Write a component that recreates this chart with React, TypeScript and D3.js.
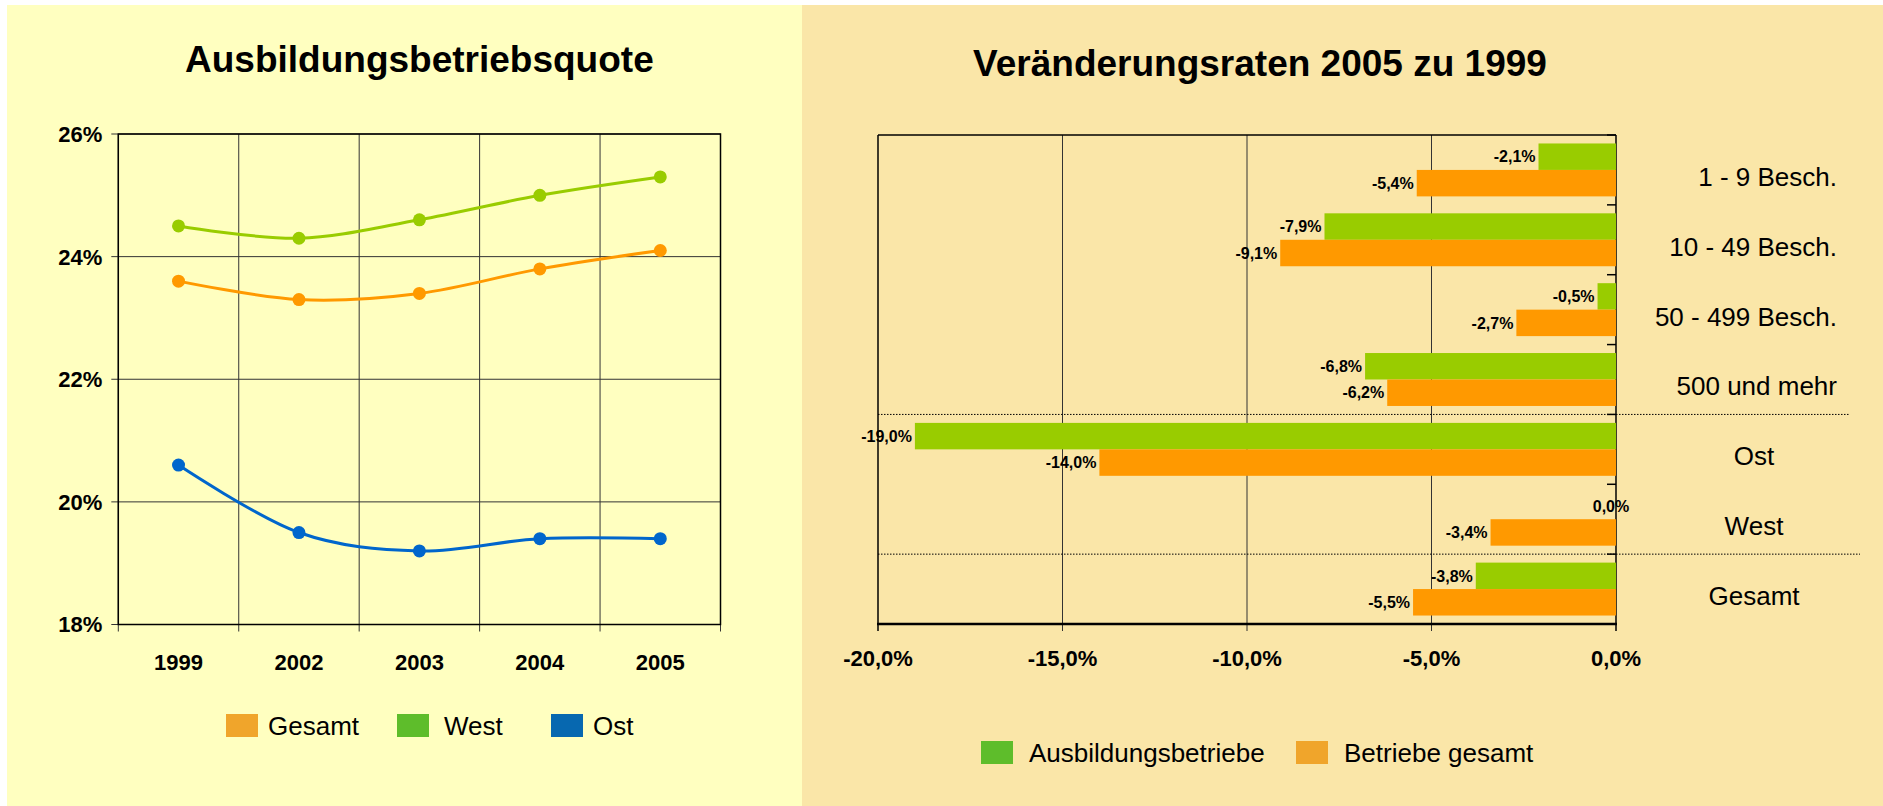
import React from "react";
import * as d3 from "d3";

// --- data ---
const years = ["1999", "2002", "2003", "2004", "2005"];
const gesamt = [23.6, 23.3, 23.4, 23.8, 24.1];
const west = [24.5, 24.3, 24.6, 25.0, 25.3];
const ost = [20.6, 19.5, 19.2, 19.4, 19.4];
const quoteTicks = [18, 20, 22, 24, 26];

const groups = ["1 - 9 Besch.", "10 - 49 Besch.", "50 - 499 Besch.", "500 und mehr", "Ost", "West", "Gesamt"];
const ausbildungsbetriebe = [-2.1, -7.9, -0.5, -6.8, -19.0, 0.0, -3.8];
const betriebeGesamt = [-5.4, -9.1, -2.7, -6.2, -14.0, -3.4, -5.5];
const rateTicks = [-20, -15, -10, -5, 0];
const separators = ["500 und mehr", "West"];

const W = 1883;
const H = 806;
const font = "'Liberation Sans', Arial, sans-serif";

const lineSeries = [
  { name: "Gesamt", values: gesamt, line: "#FF9900", swatch: "#F0A52B" },
  { name: "West", values: west, line: "#99CC00", swatch: "#5EBD2B" },
  { name: "Ost", values: ost, line: "#0066CC", swatch: "#0768B0" },
];
const barSeries = [
  { key: "a", name: "Ausbildungsbetriebe", values: ausbildungsbetriebe, fill: "#99CC00", swatch: "#5EBD2B" },
  { key: "b", name: "Betriebe gesamt", values: betriebeGesamt, fill: "#FF9900", swatch: "#F0A52B" },
];

const fmt = (v: number) => v.toFixed(1).replace(".", ",") + "%";

function QuoteChart() {
  const m = { left: 118.3, right: 720.5, top: 134, bottom: 624.5 };
  const x = d3.scaleBand().domain(years).range([m.left, m.right]).padding(0);
  const y = d3.scaleLinear().domain([18, 26]).range([m.bottom, m.top]);
  const cx = (yr: string) => (x(yr) as number) + x.bandwidth() / 2;
  // Excel-like smoothing
  const line = d3
    .line<number>()
    .x((d, i) => cx(years[i]))
    .y((d) => y(d))
    .curve(d3.curveCardinal.tension(0));
  const bounds = years.map((yr) => x(yr) as number).concat([m.right]);
  const legendX = [226, 397, 551];
  const legendGap = [42, 47, 42];

  return (
    <g fontFamily={font}>
      <text x={(m.left + m.right) / 2} y={72} textAnchor="middle" fontSize={37} fontWeight="bold">
        Ausbildungsbetriebsquote
      </text>
      {/* grid */}
      {quoteTicks.map((t) => (
        <g key={t}>
          <line x1={m.left - 7} x2={m.right} y1={y(t)} y2={y(t)} stroke="#333" strokeWidth={1} />
          <text x={m.left - 16} y={y(t)} dy="0.36em" textAnchor="end" fontSize={22} fontWeight="bold">
            {t}%
          </text>
        </g>
      ))}
      {bounds.map((b, i) => (
        <line key={i} x1={b} x2={b} y1={m.top} y2={m.bottom + 7} stroke="#333" strokeWidth={1} />
      ))}
      <rect x={m.left} y={m.top} width={m.right - m.left} height={m.bottom - m.top} fill="none" stroke="#000" strokeWidth={1.5} />
      {years.map((yr) => (
        <text key={yr} x={cx(yr)} y={670} textAnchor="middle" fontSize={22} fontWeight="bold">
          {yr}
        </text>
      ))}
      {/* lines */}
      {lineSeries.map((s) => (
        <g key={s.name}>
          <path d={line(s.values) as string} fill="none" stroke={s.line} strokeWidth={3} />
          {s.values.map((v, i) => (
            <circle key={i} cx={cx(years[i])} cy={y(v)} r={6.5} fill={s.line} />
          ))}
        </g>
      ))}
      {/* legend */}
      {lineSeries.map((s, i) => (
        <g key={s.name}>
          <rect x={legendX[i]} y={714} width={32} height={23} fill={s.swatch} />
          <text x={legendX[i] + legendGap[i]} y={735} fontSize={26}>
            {s.name}
          </text>
        </g>
      ))}
    </g>
  );
}

function RateChart() {
  const m = { left: 878, right: 1616, top: 135, bottom: 624 };
  const x = d3.scaleLinear().domain([-20, 0]).range([m.left, m.right]);
  const y0 = d3.scaleBand().domain(groups).range([m.top, m.bottom]).padding(0);
  const y1 = d3
    .scaleBand()
    .domain(barSeries.map((s) => s.key))
    .range([0, y0.bandwidth()])
    .paddingInner(0)
    .paddingOuter(0.32);
  const sepEnd = [1850, 1860];

  return (
    <g fontFamily={font}>
      <text x={1260} y={76} textAnchor="middle" fontSize={37} fontWeight="bold">
        Veränderungsraten 2005 zu 1999
      </text>
      {/* vertical grid */}
      {rateTicks.map((t) => (
        <g key={t}>
          <line
            x1={x(t)}
            x2={x(t)}
            y1={m.top}
            y2={m.bottom + 7}
            stroke={t === -20 || t === 0 ? "#000" : "#333"}
            strokeWidth={t === -20 || t === 0 ? 1.5 : 1}
          />
          <text x={x(t)} y={666} textAnchor="middle" fontSize={22} fontWeight="bold">
            {fmt(t)}
          </text>
        </g>
      ))}
      <line x1={m.left} x2={m.right} y1={m.top} y2={m.top} stroke="#000" strokeWidth={1.5} />
      {/* bars */}
      {groups.map((g, gi) => (
        <g key={g} transform={`translate(0,${y0(g)})`}>
          {barSeries.map((s) => {
            const v = s.values[gi];
            const by = y1(s.key) as number;
            return (
              <g key={s.key}>
                <rect x={x(v)} y={by} width={x(0) - x(v)} height={y1.bandwidth()} fill={s.fill} />
                <text
                  x={v === 0 ? x(0) - 5 : x(v) - 3}
                  y={by + y1.bandwidth() / 2}
                  dy="0.36em"
                  textAnchor={v === 0 ? "middle" : "end"}
                  fontSize={16}
                  fontWeight="bold"
                >
                  {fmt(v)}
                </text>
              </g>
            );
          })}
          <text
            x={gi < 4 ? 1837 : 1754}
            y={y0.bandwidth() / 2 + 16}
            textAnchor={gi < 4 ? "end" : "middle"}
            fontSize={26}
          >
            {g}
          </text>
        </g>
      ))}
      {/* group ticks on zero axis */}
      {groups.map((g) => (
        <line key={g} x1={m.right - 9} x2={m.right} y1={y0(g) as number} y2={y0(g) as number} stroke="#000" strokeWidth={1.5} />
      ))}
      <line x1={m.left - 1} x2={m.right + 1} y1={m.bottom} y2={m.bottom} stroke="#000" strokeWidth={2.5} />
      {separators.map((g, i) => {
        const sy = (y0(g) as number) + y0.bandwidth();
        return <line key={g} x1={m.left} x2={sepEnd[i]} y1={sy} y2={sy} stroke="#000" strokeWidth={1} strokeDasharray="1.5,1.5" />;
      })}
      {/* legend */}
      {barSeries.map((s, i) => {
        const lx = [981, 1296][i];
        return (
          <g key={s.key}>
            <rect x={lx} y={741} width={32} height={23} fill={s.swatch} />
            <text x={lx + 48} y={762} fontSize={26}>
              {s.name}
            </text>
          </g>
        );
      })}
    </g>
  );
}

export default function App() {
  return (
    <svg width={W} height={H} style={{ position: "absolute", left: 0, top: 0, display: "block" }}>
      <rect x={0} y={0} width={W} height={H} fill="#fff" />
      <rect x={7} y={5} width={795} height={H - 5} fill="#FFFFC0" />
      <rect x={802} y={5} width={W - 802} height={H - 5} fill="#FAE6A8" />
      <QuoteChart />
      <RateChart />
    </svg>
  );
}
